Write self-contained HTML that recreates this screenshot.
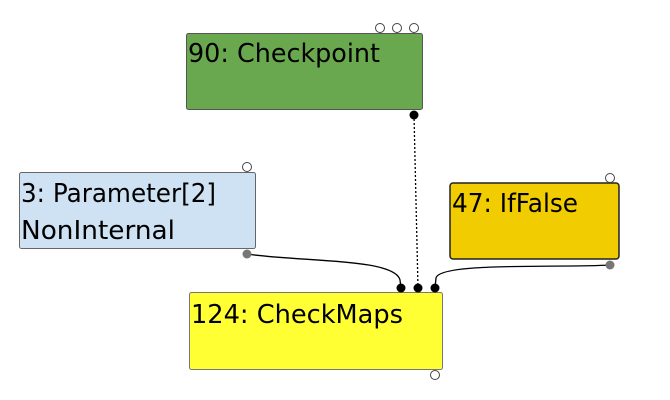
<!DOCTYPE html>
<html><head><meta charset="utf-8"><style>
html,body{margin:0;padding:0;background:#fff;width:670px;height:400px;overflow:hidden}
svg text{font-family:"DejaVu Sans","Liberation Sans",sans-serif;font-size:26px;fill:#000}
</style></head><body>
<svg width="670" height="400" viewBox="0 0 670 400" xmlns="http://www.w3.org/2000/svg">
<path d="M247,254 C300,262 395,258 400,280 L401,288" fill="none" stroke="#000" stroke-width="1.3"/>
<path d="M414,115 L418,288" fill="none" stroke="#000" stroke-width="1.3" stroke-dasharray="2,2"/>
<path d="M610,265 C560,268 440,262 436,278 L435,288" fill="none" stroke="#000" stroke-width="1.3"/>
<rect x="186.5" y="33.5" width="236" height="76" rx="2" fill="#6aa84f" stroke="#555" stroke-width="1"/>
<text x="188" y="62" textLength="192" lengthAdjust="spacingAndGlyphs">90: Checkpoint</text>
<circle cx="380" cy="28" r="4.5" fill="#fff" stroke="#444"/>
<circle cx="397" cy="28" r="4.5" fill="#fff" stroke="#444"/>
<circle cx="414" cy="28" r="4.5" fill="#fff" stroke="#444"/>
<circle cx="414" cy="115" r="4.5" fill="#000"/>
<rect x="19.5" y="172.5" width="236" height="76" rx="2" fill="#cfe2f3" stroke="#666" stroke-width="1"/>
<text x="21" y="202" textLength="195" lengthAdjust="spacingAndGlyphs">3: Parameter[2]</text>
<text x="21" y="239" textLength="154" lengthAdjust="spacingAndGlyphs">NonInternal</text>
<circle cx="247" cy="167" r="4.5" fill="#fff" stroke="#444"/>
<circle cx="247" cy="254" r="4.5" fill="#777"/>
<rect x="450" y="183" width="169" height="76" rx="3" fill="#f0cc00" stroke="#222" stroke-width="1.5"/>
<text x="452" y="212" textLength="126" lengthAdjust="spacingAndGlyphs">47: IfFalse</text>
<circle cx="610" cy="178" r="4.5" fill="#fff" stroke="#444"/>
<circle cx="610" cy="265" r="4.5" fill="#777"/>
<rect x="189.5" y="292.5" width="253" height="77" rx="2" fill="#ffff33" stroke="#777" stroke-width="1"/>
<text x="191" y="323" textLength="212" lengthAdjust="spacingAndGlyphs">124: CheckMaps</text>
<circle cx="401" cy="288" r="4.5" fill="#000"/>
<circle cx="418" cy="288" r="4.5" fill="#000"/>
<circle cx="435" cy="288" r="4.5" fill="#000"/>
<circle cx="435" cy="375" r="4.5" fill="#fff" stroke="#444"/>
</svg>
</body></html>
